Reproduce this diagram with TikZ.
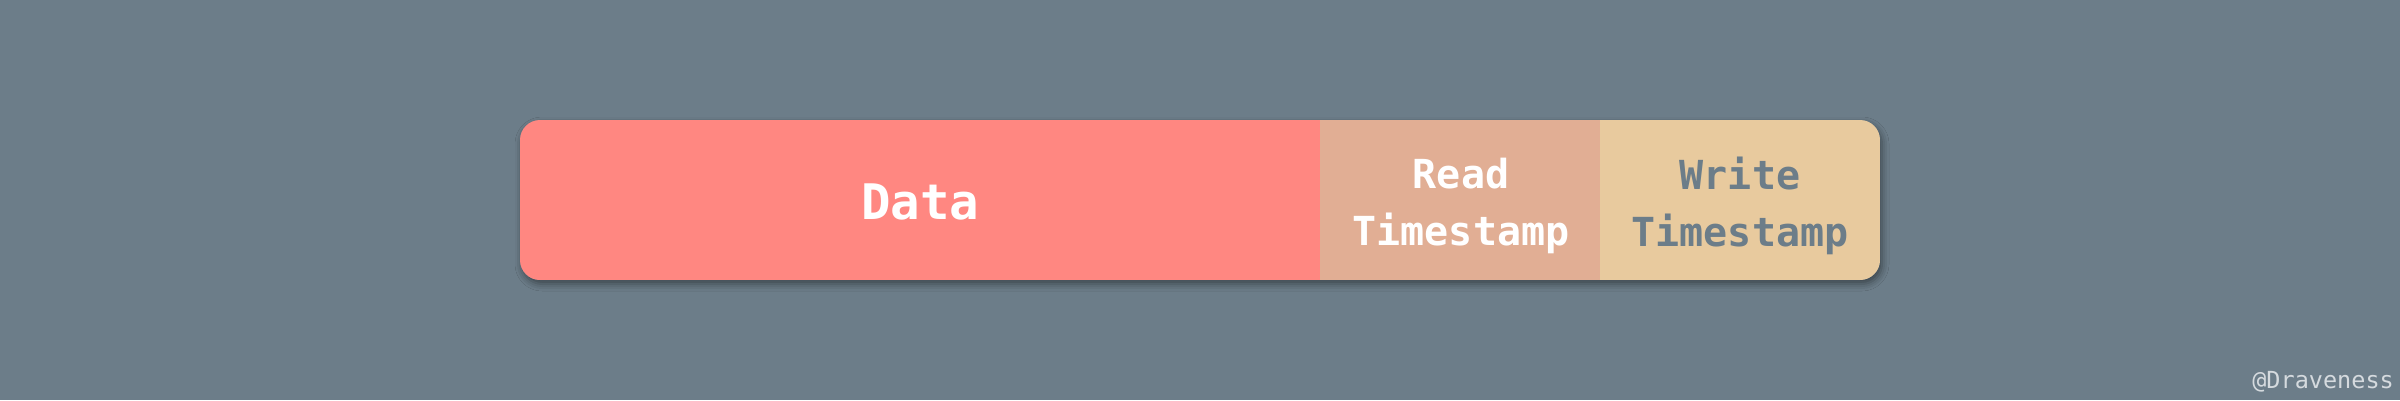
\documentclass[tikz,border=0pt]{standalone}
\usepackage{fontspec}
\setmonofont{DejaVu Sans Mono}
\usetikzlibrary{shadows.blur}
\definecolor{bgc}{HTML}{6C7D89}
\definecolor{datac}{HTML}{FF8781}
\definecolor{readc}{HTML}{E1AE94}
\definecolor{writec}{HTML}{E8CA9E}
\definecolor{markc}{HTML}{D5DADE}
\tikzset{
  cell/.style={inner sep=0pt, outer sep=0pt, align=center, font=\ttfamily\bfseries\fontsize{40}{57}\selectfont},
}
\begin{document}
\begin{tikzpicture}[x=1pt,y=-1pt]
\fill[bgc] (0,0) rectangle (2400,400);
\useasboundingbox (0,0) rectangle (2400,400);
% shadow
\path[rounded corners=20pt, fill=bgc, blur shadow={shadow xshift=2pt, shadow yshift=-4pt, shadow blur radius=7pt, shadow opacity=45}] (520,120) rectangle (1880,280);
\begin{scope}
\clip[rounded corners=20pt] (520,120) rectangle (1880,280);
\fill[datac] (520,120) rectangle (1320,280);
\fill[readc] (1320,120) rectangle (1600,280);
\fill[writec] (1600,120) rectangle (1880,280);
\end{scope}
\node[cell, text=white, font=\ttfamily\bfseries\fontsize{49}{57}\selectfont] (data) at (920,202) {Data};
\node[cell, text=white] (read) at (1461,206) {Read\\Timestamp};
\node[cell, text=bgc] (write) at (1740,206) {Write\\Timestamp};
\node[text=markc, font=\ttfamily\fontsize{23.5}{28}\selectfont, anchor=east, inner sep=0pt] (mark) at (2394,382) {@Draveness};
\end{tikzpicture}
\end{document}
